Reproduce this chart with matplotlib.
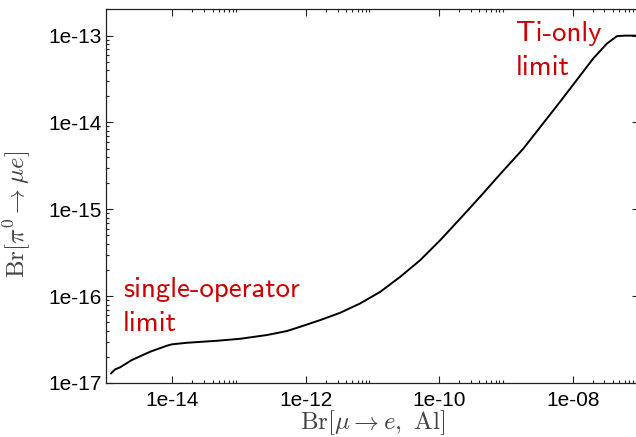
import matplotlib
matplotlib.use("Agg")
import matplotlib.pyplot as plt
from matplotlib.ticker import FixedLocator, NullFormatter

# Br[mu -> e, Al] (x) versus the bound on Br[pi0 -> mu e] (y)
br_mue_al = [1.205e-15, 1.384e-15, 1.644e-15, 2.460e-15, 4.634e-15, 8.241e-15,
             9.795e-15, 1.644e-14, 4.634e-14, 1.035e-13, 2.600e-13, 5.188e-13,
             8.222e-13, 1.637e-12, 3.266e-12, 6.516e-12, 1.300e-11, 2.594e-11,
             5.176e-11, 1.033e-10, 2.061e-10, 4.102e-10, 8.185e-10, 1.828e-09,
             6.501e-09, 2.051e-08, 3.258e-08, 4.603e-08, 6.124e-08, 1.0e-07]
br_pi0_mue = [1.291e-17, 1.435e-17, 1.514e-17, 1.837e-17, 2.291e-17, 2.685e-17,
              2.786e-17, 2.904e-17, 3.062e-17, 3.228e-17, 3.565e-17, 3.963e-17,
              4.436e-17, 5.297e-17, 6.427e-17, 8.241e-17, 1.119e-16, 1.667e-16,
              2.594e-16, 4.406e-16, 7.816e-16, 1.396e-15, 2.541e-15, 5.012e-15,
              1.738e-14, 5.495e-14, 8.091e-14, 9.863e-14, 1.0e-13, 1.0e-13]

x_ticks = [1e-14, 1e-12, 1e-10, 1e-8]
x_tick_labels = ["1e-14", "1e-12", "1e-10", "1e-08"]
y_ticks = [1e-17, 1e-16, 1e-15, 1e-14, 1e-13]
y_tick_labels = ["1e-17", "1e-16", "1e-15", "1e-14", "1e-13"]

plt.rcParams["mathtext.fontset"] = "cm"

fig = plt.figure(figsize=(6.36, 4.37), dpi=100)
ax = fig.add_axes([0.1662, 0.1236, 0.8391, 0.8547])

ax.plot(br_mue_al, br_pi0_mue, color="black", lw=1.4)
ax.set_xscale("log")
ax.set_yscale("log")
ax.set_xlim(1e-15, 1e-7)
ax.set_ylim(1e-17, 2e-13)

ax.xaxis.set_major_locator(FixedLocator(x_ticks))
ax.set_xticklabels(x_tick_labels)
ax.yaxis.set_major_locator(FixedLocator(y_ticks))
ax.set_yticklabels(y_tick_labels)

# minor ticks: on x only within the decade following each labelled tick
x_minor = [m * t for t in x_ticks for m in range(2, 10)]
y_minor = [m * t for t in y_ticks for m in range(2, 10)]
ax.xaxis.set_minor_locator(FixedLocator(x_minor))
ax.yaxis.set_minor_locator(FixedLocator(y_minor))
ax.xaxis.set_minor_formatter(NullFormatter())
ax.yaxis.set_minor_formatter(NullFormatter())

ax.tick_params(which="both", direction="in", top=True, right=True,
               color="#222222", width=0.8)
ax.tick_params(which="major", length=5)
ax.tick_params(which="minor", length=2.5)
ax.tick_params(axis="x", which="major", pad=6)
ax.tick_params(axis="y", which="major", pad=3)
for lab in ax.get_xticklabels() + ax.get_yticklabels():
    lab.set_fontfamily("Liberation Sans")
    lab.set_fontsize(15)
for sp in ax.spines.values():
    sp.set_color("#222222")
    sp.set_linewidth(0.9)

ax.set_xlabel(r"$\mathrm{Br}[\mu \rightarrow e,\ \mathrm{Al}]$", fontsize=18,
              color="#444444")
ax.set_ylabel(r"$\mathrm{Br}[\pi^0 \rightarrow \mu e]$", fontsize=18,
              color="#444444")
ax.xaxis.set_label_coords(0.5, -0.068)
ax.yaxis.set_label_coords(-0.136, 0.45)

red = "#cc0000"
ax.text(0.032, 0.139, "single-operator\nlimit", transform=ax.transAxes,
        family="cmss10", fontsize=20.8, color=red, linespacing=1.45, va="baseline")
ax.text(0.768, 0.825, "Ti-only\nlimit", transform=ax.transAxes,
        family="cmss10", fontsize=20.8, color=red, linespacing=1.45, va="baseline")

fig.savefig("out.png", dpi=100)
